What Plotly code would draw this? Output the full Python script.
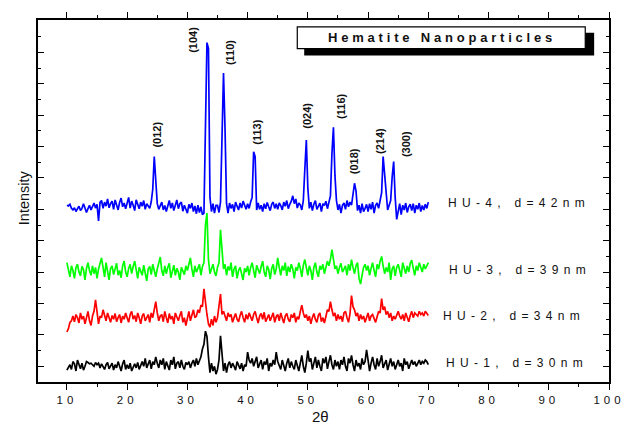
import plotly.graph_objects as go

# ---- data (raw intensities, arbitrary units; sampled every 0.25 deg from 10 to 70) ----
two_theta_start = 10.0
two_theta_step = 0.25
n_points = 241

hu4 = [
    5, 3, 8, -5, -10, -3, -15, -8, 2, -12, -5, 10, -2, -18, -6, 5, -10, 4, 12, -4,
    8, -45, 14, 20, -5, 15, 2, 25, -3, 10, 18, -8, 22, 6, -10, 14, 28, 0, 12, -6,
    10, 30, -4, 18, 5, -12, 22, 8, -6, 15, 2, 20, -8, 10, 4, -5, 16, 55, 160, 95,
    10, -8, 6, 15, -10, 4, -15, 8, 20, -5, 12, -12, 2, 22, -6, 10, 15, -14, 5, -10,
    -20, 8, -5, 12, -15, 3, -22, 5, -18, 0, -25, -20, 210, 523, 505, 30, -15, 10, -20, 5,
    5, -18, 15, 285, 426, 250, 10, -20, 12, -5, 8, -15, 15, 2, -10, 12, -4, 18, 5, -8,
    10, -5, 15, 30, 175, 160, -10, 12, -8, 5, -15, 10, -6, 14, 0, -12, 8, 15, -5, 10,
    -8, 12, 4, -10, 15, 2, 20, -6, 8, 18, 35, 10, 25, -4, 12, 6, -10, 20, 120, 213,
    60, -5, 15, -12, 8, 20, -8, 5, 12, -15, 10, 4, 18, -6, 12, 35, 170, 253, 100, 20,
    -10, 8, -20, 5, 12, -8, 20, 0, 15, 5, 40, 75, 50, -12, 5, -20, 10, -15, -5, 8,
    -15, 10, -8, 15, -20, 5, 12, -5, 20, 45, 160, 100, 40, -10, 5, 20, 95, 144, 30, -40,
    -15, 10, -25, 5, -10, 12, -18, 0, 8, -12, 10, -20, 5, -8, 12, -15, 4, -10, 8, -5,
    15,
]

hu3 = [
    30, 10, -15, 20, 5, -20, 15, 25, 0, -12, 18, 8, -25, 12, 30, 5, -10, 20, -5, 15,
    -20, 10, 25, 45, 15, -15, 30, 5, -25, 12, 20, -8, 15, 28, -10, 5, -18, 20, 35, 0,
    -15, 12, 25, -5, 18, 35, 8, -20, 15, 5, -10, 22, 0, -28, 10, 18, -8, 25, 5, -15,
    10, 30, 48, 5, -12, 20, -5, 15, 28, -18, 8, 22, -10, 12, 0, -25, 15, 5, -8, 20,
    5, 25, 45, 10, -15, 20, 0, 12, 25, -10, 18, 30, 150, 188, 40, -5, 10, 25, 0, -12,
    15, 30, 135, 60, 10, 25, -10, 18, 5, 30, -15, 10, 20, -20, 5, 15, -5, -25, 12, 0,
    20, -10, 15, 30, 5, -18, 22, 10, -5, 18, 35, 0, -15, 20, 8, -22, 12, 25, -8, 10,
    45, 15, -10, 20, 5, 30, -12, 18, 0, 25, 10, -20, 15, 5, 30, 12, -15, 22, 40, 15,
    -10, 20, 5, -25, 15, 30, 0, -15, 20, 8, 25, -5, 12, 35, 20, 40, 72, 35, 10, 20,
    -5, 15, 28, 0, 12, 20, -10, 25, 5, 40, 15, -5, 20, 30, -20, -38, -10, 15, 25, 5,
    20, -10, 12, 30, 5, -15, 25, 10, 35, 50, 20, -5, 15, 0, 30, -25, 10, 20, -12, 15,
    25, 5, -15, 30, 10, -5, 20, 0, 28, 38, 12, -10, 20, 5, 30, 15, 0, 25, 10, 20,
    30,
]

hu2 = [
    -40, -30, -10, -5, 10, -8, 15, 5, -12, 20, 0, 10, -15, 8, 25, -5, -20, 10, 25, 62,
    20, -15, 10, 5, 30, 15, -5, 20, 8, -10, 12, 0, 18, -8, 5, 15, -12, 10, 0, 20,
    5, -10, 15, 25, 0, 12, -8, 20, 5, -15, 10, 18, -5, 8, 15, -10, 20, 5, 30, 56,
    20, -5, 10, 15, -8, 25, 5, -12, 18, 0, 10, -15, 20, 8, -5, 12, 25, -10, 5, -20,
    10, 25, -5, 15, 30, 5, 10, 30, 20, 45, 40, 97, 45, 15, -15, -25, 0, -20, 10, -10,
    5, 40, 80, 15, 25, 10, -5, 20, 8, 15, -10, 5, 18, 0, -8, 12, 25, 5, -10, 15,
    0, 20, 10, -5, 15, 25, 5, -12, 10, 18, 0, 22, -8, 5, 15, -5, 10, 20, -10, 8,
    15, -5, 20, 5, -12, 10, 18, 0, -8, 15, 5, 20, -10, 8, 0, 25, 45, 20, 5, 15,
    -5, 10, -15, 5, 18, 0, -10, 12, 20, -8, 5, -12, 15, 30, 25, 56, 30, 10, 20, -5,
    15, 0, 10, -8, 20, 25, 5, -10, 18, 75, 40, 30, 10, 20, -5, 15, 0, 10, -10, 5,
    20, -5, 10, 15, 0, -10, 8, 25, 20, 66, 30, 40, 15, 25, 5, 20, -5, 10, 0, 15,
    25, 10, 0, 15, -5, 20, 8, -8, 12, 25, 5, 20, 15, 10, 25, 15, 20, 10, 25, 18,
    12,
]

hu1 = [
    -12, -5, 5, -10, 15, 8, -15, 20, 5, -8, 10, -12, 0, 15, 12, 8, 10, 5, 0, 12,
    5, 10, -5, 8, 0, -10, 5, 12, -8, 0, 10, -12, 5, -5, 15, 0, -15, 8, 20, -10,
    5, -8, 10, -15, 0, 8, -5, 12, -10, 5, 15, 0, 25, -5, 10, 20, -8, 15, 5, 30,
    10, -5, 20, 5, 25, -10, 15, 0, -12, 20, 5, 30, -8, 10, 15, -5, 20, 0, -10, 12,
    5, 15, -5, 10, 20, 0, 25, 5, 15, 30, 55, 70, 112, 95, 30, -20, 10, -15, 0, -25,
    -10, 20, 97, 40, -15, 10, -20, 5, 15, -5, 10, 0, -12, 15, 5, -8, 10, -15, 5, 0,
    45, 20, 10, 25, 0, 15, 30, -5, 10, 20, -10, 15, 5, 25, -15, 10, 0, 20, 5, 45,
    15, 0, -10, 20, 5, -15, 10, 25, -5, 15, 0, -10, 20, 5, -15, 10, 35, 0, -20, 10,
    50, 15, 25, -10, 10, 30, -5, 20, 0, -15, 25, 10, 30, -8, 15, 35, 5, -10, 20, 0,
    15, -10, 20, 5, 30, 0, -15, 25, 10, 35, 5, -15, 20, 0, 10, -10, 25, 5, 15, 52,
    20, -15, 10, 30, 5, -10, 25, 0, 15, 35, -5, 10, 20, -12, 5, 25, 0, 15, -10, 10,
    20, 0, 10, -15, 25, 5, 15, -8, 10, 20, 5, 15, 0, 10, 20, 5, 15, 10, 20, 15,
    5,
]

series_names = ["HU-1, d=30nm", "HU-2, d=34nm", "HU-3, d=39nm", "HU-4, d=42nm"]
series_values = [hu1, hu2, hu3, hu4]
series_offsets = [0, 150, 300, 508]
series_colors = ["#000000", "#FF0000", "#00FF00", "#0000FF"]

peak_labels = ["(012)", "(104)", "(110)", "(113)", "(024)", "(116)", "(018)", "(214)", "(300)"]
peak_label_x = [24.9, 31.0, 37.2, 41.5, 49.9, 55.6, 57.6, 62.0, 66.3]
peak_label_y = [737, 1041, 1000, 746, 799, 828, 652, 718, 708]

x_tick_values = [10, 20, 30, 40, 50, 60, 70, 80, 90, 100]

for s in series_values:
    assert len(s) == n_points, len(s)

two_theta = [two_theta_start + two_theta_step * i for i in range(n_points)]

# ---- geometry helpers (pixel -> paper) ----
W, H = 637, 427
L, R, T, B = 38, 615, 14, 382


def px(x):
    return (x - L) / (R - L)


def py(y):
    return (B - y) / (B - T)


FONT = "Liberation Sans, Arial, sans-serif"

fig = go.Figure()
for name, vals, off, col in zip(series_names, series_values, series_offsets, series_colors):
    fig.add_trace(go.Scatter(
        x=two_theta, y=[v + off for v in vals], mode="lines", name=name,
        line=dict(color=col, width=1.7), showlegend=False,
    ))

# series labels at right of traces (centre positions in pixels)
label_px = [(522, 363), (519, 315), (525, 268), (524, 200)]
for name, (lx, ly) in zip(series_names, label_px):
    fig.add_annotation(
        x=px(lx), y=py(ly), xref="paper", yref="paper", xanchor="center", yanchor="middle",
        text='<span style="letter-spacing:5.3px">%s</span>' % name, showarrow=False,
        font=dict(family=FONT, size=12, color="#111111"),
    )

# miller index labels
for lab, lx, ly in zip(peak_labels, peak_label_x, peak_label_y):
    fig.add_annotation(
        x=lx, y=ly, xref="x", yref="y", text="<b>%s</b>" % lab, textangle=-90, showarrow=False,
        xanchor="center", yanchor="middle",
        font=dict(family=FONT, size=11, color="#111111"),
    )

# title box with shadow
fig.add_shape(type="rect", xref="paper", yref="paper",
              x0=px(307), x1=px(600), y0=py(50), y1=py(27),
              fillcolor="black", line=dict(color="black", width=0))
fig.add_shape(type="rect", xref="paper", yref="paper",
              x0=px(300), x1=px(591), y0=py(43), y1=py(21),
              fillcolor="white", line=dict(color="black", width=1.2))
fig.add_annotation(
    x=px(446), y=py(32), xref="paper", yref="paper", xanchor="center", yanchor="middle",
    text='<span style="letter-spacing:3.8px"><b>Hematite Nanoparticles</b></span>', showarrow=False,
    font=dict(family=FONT, size=13, color="#111111"),
)

# axis titles
fig.add_annotation(
    x=px(24), y=py(195), xref="paper", yref="paper", text="Intensity", textangle=-90,
    showarrow=False, xanchor="center", yanchor="middle",
    font=dict(family=FONT, size=14.5, color="#111111"),
)
fig.add_annotation(
    x=px(323), y=py(417), xref="paper", yref="paper", text="2θ",
    showarrow=False, xanchor="center", yanchor="middle",
    font=dict(family=FONT, size=15, color="#111111"),
)

fig.update_layout(
    width=W, height=H,
    margin=dict(l=L, r=W - R, t=T, b=H - B, pad=0),
    paper_bgcolor="white", plot_bgcolor="white",
    font=dict(family=FONT, color="#111111"),
)
fig.update_xaxes(
    range=[5.2, 100], showgrid=False, zeroline=False,
    showline=True, linecolor="black", linewidth=1.5, mirror="ticks",
    ticks="outside", ticklen=6, tickwidth=1.2, tickcolor="black",
    tickvals=x_tick_values,
    ticktext=['<span style="letter-spacing:4px">%d</span>' % v for v in x_tick_values],
    tickfont=dict(family=FONT, size=11.5, color="#111111"),
    minor=dict(dtick=5, tick0=5, ticks="outside", ticklen=3.5, tickwidth=1.1, tickcolor="black"),
)
fig.update_yaxes(
    range=[-50, 1103], showgrid=False, zeroline=False,
    showline=True, linecolor="black", linewidth=1.5, mirror="ticks",
    ticks="inside", ticklen=6, tickwidth=1.2, tickcolor="black",
    tick0=0, dtick=100, showticklabels=False,
    minor=dict(dtick=50, tick0=0, ticks="inside", ticklen=3.5, tickwidth=1.1, tickcolor="black"),
)

fig.write_html("out.html")
